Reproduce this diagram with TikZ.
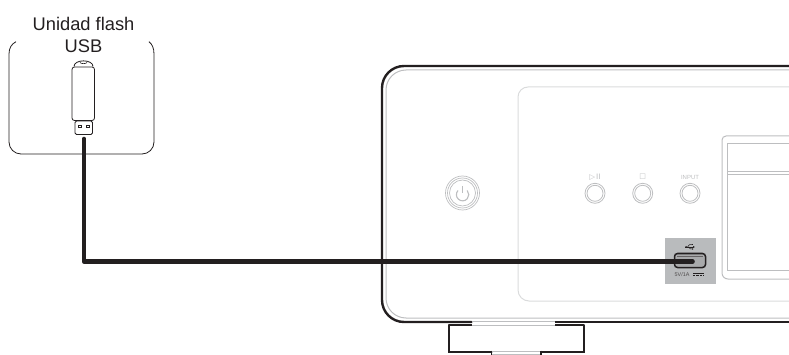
\documentclass[tikz,border=0pt]{standalone}
\usepackage{fontspec}
\usetikzlibrary{arrows.meta}
\setmainfont{Liberation Sans}
\definecolor{blk}{HTML}{231F20}
\definecolor{gl}{HTML}{BDBEC0}
\definecolor{gll}{HTML}{DADBDC}
\definecolor{usbg}{HTML}{B9BBBD}
\tikzset{
  ink/.style={draw=blk,line width=1pt},
  heavy/.style={draw=blk,line width=2.4pt},
  soft/.style={draw=gl,line width=1pt},
  softer/.style={draw=gll,line width=1pt},
  cable/.style={draw=blk,line width=4.6pt,line join=round},
  lbl/.style={font=\fontsize{18.3}{22}\selectfont,align=center,text=blk,inner sep=0pt},
  tiny/.style={font=\fontsize{6}{7}\selectfont,text=gl,inner sep=0pt},
}
\begin{document}
\begin{tikzpicture}[x=1pt,y=-1pt]
\useasboundingbox (0,0) rectangle (789,355);
% device body
\draw[heavy,line cap=round] (471.5,322) -- (404,322) arc[start angle=90,end angle=180,radius=22] -- (382,88) arc[start angle=180,end angle=270,radius=22] -- (789,66);
\draw[heavy] (555,322) -- (789,322);
\draw[soft] (789,70) -- (406,70) arc[start angle=270,end angle=180,radius=20] -- (386,298) arc[start angle=180,end angle=90,radius=20] -- (789,318);
% panel
\draw[softer] (789,87) -- (528,87) arc[start angle=270,end angle=180,radius=10] -- (518,290) arc[start angle=180,end angle=90,radius=11] -- (789,301);
% power button
\coordinate (pw) at (462.5,193);
\foreach \r in {17,15,13}{\draw[gl,line width=.7pt] (pw) circle[radius=\r];}
\draw[gl,line width=1.1pt] (458,190.5) arc[start angle=222,end angle=-42,radius=6.2];
\draw[gl,line width=1.1pt] (462.5,186) -- (462.5,193.5);
% buttons
\foreach \x in {595,642.7,690}{
  \draw[gl,line width=.8pt] (\x,193.3) circle[radius=10];
  \draw[gl,line width=.8pt] (\x,193.3) circle[radius=8];
}
\node[tiny] (lplay) at (595,177) {\fontspec{DejaVu Sans}\fontsize{7.5}{8}\selectfont ▷\hspace{1pt}II};
\node[tiny] (lstop) at (642.7,177) {\fontspec{DejaVu Sans}\fontsize{7}{8}\selectfont □};
\node[tiny] (linput) at (690,177) {INPUT};
% display
\draw[soft] (789,136) -- (726,136) arc[start angle=270,end angle=180,radius=4] -- (722,273) arc[start angle=180,end angle=90,radius=6] -- (789,279);
\draw[soft] (789,144) -- (727,144) -- (727,270) -- (789,270);
\draw[soft] (727,172) -- (789,172);
\draw[soft] (727,175) -- (789,175);
% USB socket
\fill[usbg] (665,238) rectangle (716,284);
\draw[blk,line width=1.5pt,fill=usbg!70!gray,rounded corners=3pt] (674.5,253.5) rectangle (705.5,267.5);
\draw[blk!70,line width=.8pt] (677,256.5) -- (703,256.5);
% USB symbol
\draw[blk,line width=.7pt,-{Latex[length=2pt,width=2pt]}] (685,247) -- (695,247);
\fill[blk] (686,247) circle[radius=1];
\draw[blk,line width=.5pt] (687.5,247) -- (689.5,244.6) -- (692,244.6);
\fill[blk] (692,243.8) rectangle (693.4,245.4);
\draw[blk,line width=.5pt] (688.5,247) -- (690.5,249) -- (692,249);
\fill[blk] (692.6,249) circle[radius=.8];
\node[font=\fontsize{5.4}{6}\selectfont,text=blk!80,inner sep=0pt] (vlab) at (682,274.3) {5V/1A};
\draw[blk,line width=.8pt] (693,273) -- (704,273);
\draw[blk,line width=.8pt,dash pattern=on 2.4pt off 1pt] (693,275.6) -- (704,275.6);
% foot
\draw[heavy] (471.5,325) -- (449,325);
\draw[soft] (471.5,321.5) -- (555,321.5);
\draw[soft] (471.5,325) -- (555,325);
\draw[ink,line width=2pt,line cap=round] (449,325) -- (449,351.5) -- (491.5,351.5);
\draw[ink,line width=2pt,line cap=round] (584,325) -- (584,351.5) -- (541,351.5);
\draw[heavy] (555,325) -- (584,325);
\draw[soft] (491.5,351) -- (541,351);
\draw[soft] (491.5,354.5) -- (541,354.5);
\draw[blk,line width=1.5pt] (491.5,350.5) -- (491.5,355);
\draw[blk,line width=1.5pt] (541,350.5) -- (541,355);
% frame around stick
\draw[blk,line width=.8pt] (16,41.7) .. controls (11.5,44) and (9,48) .. (9,54) -- (9,142) arc[start angle=180,end angle=90,radius=12] -- (142,154) arc[start angle=90,end angle=0,radius=12] -- (154,54) .. controls (154,48) and (152,44) .. (149,41.7);
\node[lbl] (title) at (83.5,34.5) {Unidad flash\\USB};
% stick
\draw[blk,line width=.8pt,fill=white,rounded corners=1.5pt] (75,121) rectangle (92.5,134.5);
\fill[blk] (78,125) rectangle (81.5,128.5);
\fill[blk] (86,125) rectangle (89.5,128.5);
\fill[white] (79,126) rectangle (80.5,127.5);
\fill[white] (87,126) rectangle (88.5,127.5);
\draw[blk,line width=.8pt,fill=white] (74,66.5) .. controls (74,59) and (93,59) .. (93,66.5);
\draw[blk,line width=.6pt] (80,62.5) .. controls (81,64) and (86,64) .. (87,62.5);
\draw[blk,line width=.8pt,fill=white,rounded corners=2.5pt] (72,67) rectangle (94.5,120.5);
% cable
\coordinate (plug) at (84,139);
\coordinate (bend) at (84,261.5);
\coordinate (port) at (692.5,261.5);
\draw[cable,line cap=round] (plug) -- (bend) -- (port);
\end{tikzpicture}
\end{document}
